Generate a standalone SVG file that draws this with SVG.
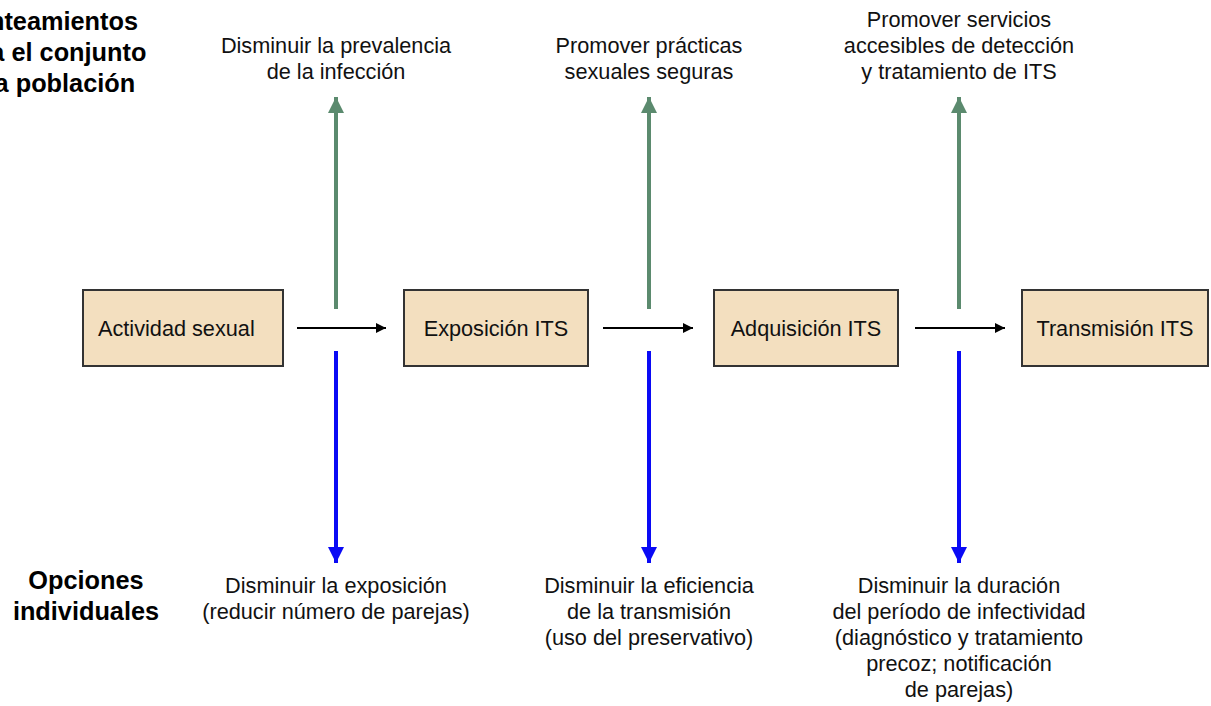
<svg xmlns="http://www.w3.org/2000/svg" width="1211" height="706" viewBox="0 0 1211 706">
  <style>
    .box { fill: #F3DFBF; stroke: #333333; stroke-width: 2; }
    .lbl { font-family: "Liberation Sans", Arial, sans-serif; font-size: 21.7px; fill: #111111; }
    .mid { text-anchor: middle; }
    .head { font-family: "Liberation Sans", Arial, sans-serif; font-size: 25.3px; font-weight: bold; fill: #000000; }
    .flow { stroke: #000000; stroke-width: 2; fill: none; }
    .pop { stroke: #5B8A6E; stroke-width: 4; fill: none; }
    .ind { stroke: #0A0AF5; stroke-width: 4; fill: none; }
  </style>
  <defs>
    <marker id="ahBlack" viewBox="0 0 10 10" refX="10" refY="5" markerWidth="10" markerHeight="10" markerUnits="userSpaceOnUse" orient="auto">
      <path d="M0,0 L10,5 L0,10 Z" fill="#000000"/>
    </marker>
    <marker id="ahGreen" viewBox="0 0 16 16" refX="16" refY="8" markerWidth="16" markerHeight="17" markerUnits="userSpaceOnUse" orient="auto">
      <path d="M0,0 L16,8 L0,16 Z" fill="#5B8A6E"/>
    </marker>
    <marker id="ahBlue" viewBox="0 0 16 16" refX="16" refY="8" markerWidth="16" markerHeight="17" markerUnits="userSpaceOnUse" orient="auto">
      <path d="M0,0 L16,8 L0,16 Z" fill="#0A0AF5"/>
    </marker>
  </defs>

  <rect width="1211" height="706" fill="#FFFFFF"/>

  <!-- row headings (the upper one runs past the left edge of the canvas) -->
  <g id="heading-poblacion">
    <text class="head" x="-49" y="30">Planteamientos</text>
    <text class="head" x="-49" y="61">para el conjunto</text>
    <text class="head" x="-49" y="92">de la población</text>
  </g>
  <g id="heading-individual">
    <text class="head mid" x="86" y="589">Opciones</text>
    <text class="head mid" x="86" y="620">individuales</text>
  </g>

  <!-- process steps -->
  <g id="actividad">
    <rect class="box" x="83" y="290" width="200" height="76"/>
    <text class="lbl" x="98" y="336">Actividad sexual</text>
  </g>
  <g id="exposicion">
    <rect class="box" x="404" y="290" width="184" height="76"/>
    <text class="lbl mid" x="496" y="336">Exposición ITS</text>
  </g>
  <g id="adquisicion">
    <rect class="box" x="714" y="290" width="184" height="76"/>
    <text class="lbl mid" x="806" y="336">Adquisición ITS</text>
  </g>
  <g id="transmision">
    <rect class="box" x="1022" y="290" width="186" height="76"/>
    <text class="lbl mid" x="1115" y="336">Transmisión ITS</text>
  </g>

  <!-- connectors -->
  <g id="connectors">
    <line class="flow" x1="297" y1="328" x2="386" y2="328" marker-end="url(#ahBlack)"/>
    <line class="flow" x1="603" y1="328" x2="693" y2="328" marker-end="url(#ahBlack)"/>
    <line class="flow" x1="915" y1="328" x2="1005" y2="328" marker-end="url(#ahBlack)"/>

    <line class="pop" x1="336" y1="309" x2="336" y2="97" marker-end="url(#ahGreen)"/>
    <line class="pop" x1="649" y1="309" x2="649" y2="97" marker-end="url(#ahGreen)"/>
    <line class="pop" x1="959" y1="309" x2="959" y2="97" marker-end="url(#ahGreen)"/>

    <line class="ind" x1="336" y1="351" x2="336" y2="563" marker-end="url(#ahBlue)"/>
    <line class="ind" x1="649" y1="351" x2="649" y2="563" marker-end="url(#ahBlue)"/>
    <line class="ind" x1="959" y1="351" x2="959" y2="563" marker-end="url(#ahBlue)"/>
  </g>

  <!-- population-level measures -->
  <g id="prevalencia">
    <text class="lbl mid" x="336" y="53">Disminuir la prevalencia</text>
    <text class="lbl mid" x="336" y="79">de la infección</text>
  </g>
  <g id="practicas">
    <text class="lbl mid" x="649" y="53">Promover prácticas</text>
    <text class="lbl mid" x="649" y="79">sexuales seguras</text>
  </g>
  <g id="servicios">
    <text class="lbl mid" x="959" y="27">Promover servicios</text>
    <text class="lbl mid" x="959" y="53">accesibles de detección</text>
    <text class="lbl mid" x="959" y="79">y tratamiento de ITS</text>
  </g>

  <!-- individual options -->
  <g id="exposicion-opc">
    <text class="lbl mid" x="336" y="593">Disminuir la exposición</text>
    <text class="lbl mid" x="336" y="619">(reducir número de parejas)</text>
  </g>
  <g id="eficiencia-opc">
    <text class="lbl mid" x="649" y="593">Disminuir la eficiencia</text>
    <text class="lbl mid" x="649" y="619">de la transmisión</text>
    <text class="lbl mid" x="649" y="645">(uso del preservativo)</text>
  </g>
  <g id="duracion-opc">
    <text class="lbl mid" x="959" y="593">Disminuir la duración</text>
    <text class="lbl mid" x="959" y="619">del período de infectividad</text>
    <text class="lbl mid" x="959" y="645">(diagnóstico y tratamiento</text>
    <text class="lbl mid" x="959" y="671">precoz; notificación</text>
    <text class="lbl mid" x="959" y="697">de parejas)</text>
  </g>
</svg>
